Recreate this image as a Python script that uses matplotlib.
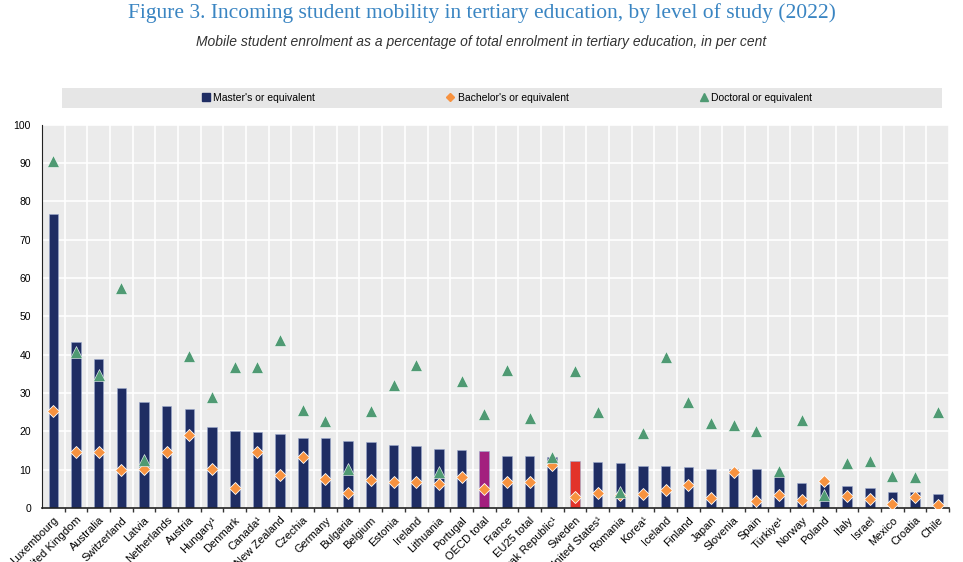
import matplotlib.pyplot as plt
import numpy as np
from matplotlib.patches import Rectangle
from matplotlib.lines import Line2D

countries = ['Luxembourg', 'United Kingdom', 'Australia', 'Switzerland', 'Latvia',
             'Netherlands', 'Austria', 'Hungary¹', 'Denmark', 'Canada¹',
             'New Zealand', 'Czechia', 'Germany', 'Bulgaria', 'Belgium',
             'Estonia', 'Ireland', 'Lithuania', 'Portugal', 'OECD total',
             'France', 'EU25 total', 'Slovak Republic¹', 'Sweden', 'United States¹',
             'Romania', 'Korea¹', 'Iceland', 'Finland', 'Japan',
             'Slovenia', 'Spain', 'Türkiye¹', 'Norway', 'Poland',
             'Italy', 'Israel', 'Mexico', 'Croatia', 'Chile']

masters = [76.7, 43.4, 39.0, 31.3, 27.6, 26.7, 25.9, 21.1, 20.0, 19.9,
           19.3, 18.3, 18.2, 17.4, 17.2, 16.4, 16.3, 15.5, 15.2, 15.0,
           13.7, 13.6, 13.3, 12.3, 12.0, 11.8, 11.0, 10.9, 10.8, 10.3,
           10.3, 10.2, 8.7, 6.6, 6.2, 5.7, 5.3, 4.2, 4.2, 3.6]

bachelors = [25.2, 14.6, 14.7, 10.0, 10.3, 14.5, 19.1, 10.2, 5.2, 14.5,
             8.7, 13.4, 7.5, 3.8, 7.4, 6.8, 6.9, 6.3, 8.2, 5.0,
             6.8, 6.7, 11.2, 2.9, 4.0, 3.4, 3.6, 4.7, 5.9, 2.6,
             9.3, 1.8, 3.5, 2.2, 7.1, 3.1, 2.4, 1.0, 2.9, 0.8]

doctoral = [90.6, 40.7, 34.8, 57.5, 12.5, np.nan, 39.7, 28.9, 36.9, 36.9,
            43.8, 25.6, 22.6, 10.3, 25.2, 32.1, 37.4, 9.4, 33.1, 24.6,
            35.9, 23.4, 13.4, 35.7, 25.0, 4.3, 19.7, 39.3, 27.6, 22.1,
            21.7, 20.0, 9.6, 23.0, 3.3, 11.7, 12.2, 8.3, 8.0, 25.1]

highlight = {'OECD total': '#a3207e', 'Sweden': '#e2332a'}

NAVY = '#1f2d63'
ORANGE = '#f7923f'
GREEN = '#4f9a73'

plt.rcParams['font.family'] = ['Liberation Sans Narrow', 'Liberation Sans', 'DejaVu Sans']

fig = plt.figure(figsize=(9.63, 5.62), dpi=100)
ax = fig.add_axes([0.0436, 0.096, 0.942, 0.682])

x = np.arange(len(countries))
colors = [highlight.get(c, NAVY) for c in countries]
ax.bar(x, masters, width=0.42, color=colors, edgecolor='#9aa8cc', linewidth=0.4, zorder=2)
ax.plot(x, bachelors, linestyle='none', marker='D', markersize=6.2, color=ORANGE,
        markeredgecolor='white', markeredgewidth=0.6, zorder=3)
ax.plot(x, doctoral, linestyle='none', marker='^', markersize=8, color=GREEN,
        markeredgecolor='white', markeredgewidth=0.4, zorder=3)

ax.set_facecolor('#ebebeb')
ax.set_xlim(-0.5, 39.5)
ax.set_ylim(0, 100)
ax.set_yticks(np.arange(0, 101, 10))
ax.tick_params(axis='y', length=0, labelsize=7.5, pad=8)
ax.set_xticks(x)
ax.set_xticklabels(countries, rotation=45, ha='right', rotation_mode='anchor', fontsize=8)
ax.set_xticks(x + 0.5, minor=True)
ax.tick_params(axis='x', which='major', length=0, pad=5)
ax.tick_params(axis='x', which='minor', length=3, width=1, color='#333333')
ax.grid(True, which='minor', axis='x', color='white', linewidth=1.2, zorder=0)
ax.grid(True, which='major', axis='y', color='white', linewidth=1.2, zorder=0)
ax.set_axisbelow(True)
for side in ['top', 'right']:
    ax.spines[side].set_visible(False)
ax.spines['left'].set_color('#222222')
ax.spines['bottom'].set_color('#222222')
ax.spines['bottom'].set_linewidth(1.2)

fig.text(0.5, 0.977, 'Figure 3. Incoming student mobility in tertiary education, by level of study (2022)',
         ha='center', va='center', fontsize=15.5, color='#3a85c2',
         family=['Liberation Serif', 'DejaVu Serif'])
fig.text(0.5, 0.925, 'Mobile student enrolment as a percentage of total enrolment in tertiary education, in per cent',
         ha='center', va='center', fontsize=10, style='italic', color='#333333',
         family=['Liberation Sans', 'DejaVu Sans'])

fig.patches.append(Rectangle((62 / 963, 1 - 108 / 562), 880 / 963, 20 / 562,
                             transform=fig.transFigure, facecolor='#e6e6e6',
                             edgecolor='none', zorder=0))
handles = [
    Line2D([], [], linestyle='none', marker='s', markersize=6, color=NAVY),
    Line2D([], [], linestyle='none', marker='D', markersize=4.5, color=ORANGE),
    Line2D([], [], linestyle='none', marker='^', markersize=6, color=GREEN),
]
fig.legend(handles, ["Master's or equivalent", "Bachelor's or equivalent", 'Doctoral or equivalent'],
           loc='center', bbox_to_anchor=(0.526, 1 - 98 / 562), ncol=3, frameon=False,
           fontsize=7.5, handletextpad=0.2, handlelength=1.0, columnspacing=12.5)

fig.savefig('out.png', dpi=100)
